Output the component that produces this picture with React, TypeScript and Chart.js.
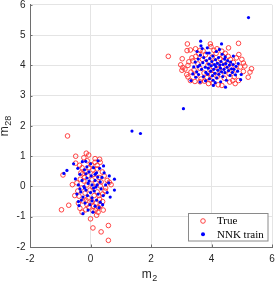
import React, { useEffect, useRef } from "react";
import { Chart, registerables } from "chart.js";

Chart.register(...registerables);

// Axis ranges and tick labels
const xTickValues = [-2, 0, 2, 4, 6];
const yTickValues = [-2, -1, 0, 1, 2, 3, 4, 5, 6];
const seriesLabels = ["True", "NNK train"];

// "True" samples, cluster near (0,0)
const trueA: [number, number][] = [
  [-0.76, 1.67], [-0.14, 1.10], [-0.06, 1.04], [-0.49, 1.00], [0.30, 0.90], [0.32, 0.80],
  [-0.11, 0.85], [0.15, 0.80], [-0.49, 0.77], [-0.36, 0.70], [0.22, 0.58], [0.39, 0.48],
  [-0.91, 0.38], [-0.32, 0.45], [-0.26, 0.42], [-0.34, 0.24], [-0.60, 0.06], [0.68, 0.06],
  [0.62, 0.14], [-0.96, -0.77], [-0.72, -0.62], [-0.16, -0.77], [0.16, -0.78], [0.27, -0.70],
  [0.34, -0.62], [0.00, -1.07], [0.08, -1.37], [0.35, -1.50], [0.59, -1.29], [0.59, -1.78],
  [-0.05, 0.62], [0.08, 0.55], [-0.18, 0.50], [0.12, 0.40], [-0.08, 0.35], [0.28, 0.30],
  [-0.22, 0.18], [0.05, 0.22], [0.18, 0.12], [-0.12, 0.05], [0.32, 0.02], [-0.30, -0.05],
  [0.08, -0.02], [-0.02, -0.12], [0.22, -0.18], [-0.18, -0.22], [0.40, -0.25], [-0.38, -0.32],
  [0.12, -0.30], [-0.08, -0.38], [0.30, -0.42], [-0.25, -0.48], [0.05, -0.50], [0.18, -0.55],
  [-0.12, -0.60], [0.25, -0.85], [0.08, -0.80], [-0.05, -0.68], [-0.40, -0.55], [0.45, 0.35],
  [0.50, -0.05], [0.48, -0.15], [-0.45, 0.12], [-0.42, -0.15], [0.02, 0.72], [0.22, 0.70],
  [-0.28, 0.62], [-0.35, -0.72], [0.40, -0.50], [0.10, -0.65], [-0.20, 0.30], [0.35, 0.15],
  [-0.15, -0.45], [0.28, -0.30], [0.15, 0.92], [-0.22, 0.95], [0.55, 0.20], [-0.52, -0.30],
  [0.42, -0.78], [-0.28, -0.85], [0.20, -0.95],
];

// "True" samples, cluster near (4,4)
const trueB: [number, number][] = [
  [2.57, 4.30], [3.03, 4.22], [2.98, 4.02], [3.02, 3.84], [3.05, 3.93], [3.19, 4.49],
  [3.20, 4.71], [3.30, 4.51], [3.47, 4.55], [3.62, 4.50], [3.96, 4.71], [3.98, 4.62],
  [4.18, 4.55], [4.34, 4.47], [4.45, 4.40], [4.56, 4.58], [4.89, 4.73], [4.55, 4.30],
  [4.90, 4.36], [5.00, 4.20], [5.05, 4.08], [5.10, 3.98], [4.95, 3.95], [5.32, 3.89],
  [5.27, 3.78], [5.21, 3.61], [5.05, 3.80], [4.89, 3.50], [4.78, 3.40], [4.60, 3.45],
  [4.34, 3.34], [4.22, 3.36], [4.05, 3.42], [3.90, 3.40], [3.77, 3.48], [3.62, 3.46],
  [3.45, 3.47], [3.30, 3.50], [3.22, 3.62], [3.18, 3.70], [3.12, 3.88], [3.22, 4.00],
  [3.25, 4.12], [3.38, 4.15], [3.35, 4.25], [3.48, 4.30], [3.55, 4.05], [3.62, 3.90],
  [3.70, 4.20], [3.75, 3.75], [3.80, 4.35], [3.85, 3.60], [3.88, 4.00], [3.92, 4.12],
  [3.95, 3.85], [4.00, 3.70], [4.02, 4.28], [4.05, 3.95], [4.10, 4.10], [4.12, 3.80],
  [4.15, 4.40], [4.18, 3.62], [4.22, 4.02], [4.25, 3.88], [4.28, 4.22], [4.30, 3.70],
  [4.35, 3.95], [4.40, 4.15], [4.42, 3.58], [4.48, 3.85], [4.52, 4.05], [4.58, 3.72],
  [4.62, 4.20], [4.65, 3.92], [4.72, 4.10], [4.75, 3.62], [4.80, 3.85], [4.82, 4.25],
  [3.50, 3.68], [3.42, 3.85], [3.65, 3.55], [3.58, 4.38], [3.72, 4.48], [4.08, 4.50],
  [4.38, 4.30], [4.70, 3.50], [3.32, 3.78], [3.95, 3.52],
];

// "NNK train" samples, cluster near (0,0)
const nnkA: [number, number][] = [
  [1.37, 1.83], [1.65, 1.75], [-0.78, 0.53], [-0.88, 0.43], [-0.56, 0.75], [-0.27, 0.82],
  [0.24, 0.31], [0.62, 0.35], [0.79, 0.24], [0.79, -0.12], [-0.25, -0.90], [-0.38, -0.63],
  [0.43, 0.68], [-0.16, 0.83], [-0.35, 0.40], [-0.20, 0.55], [-0.05, 0.48], [0.10, 0.62],
  [0.20, 0.45], [-0.28, 0.20], [-0.12, 0.28], [0.02, 0.35], [0.15, 0.20], [0.32, 0.15],
  [-0.40, 0.05], [-0.22, 0.00], [-0.08, 0.10], [0.05, 0.05], [0.18, -0.02], [0.35, -0.08],
  [0.50, 0.05], [-0.32, -0.18], [-0.15, -0.12], [0.00, -0.20], [0.12, -0.15], [0.25, -0.25],
  [0.42, -0.30], [-0.25, -0.35], [-0.10, -0.30], [0.05, -0.38], [0.20, -0.45], [0.32, -0.52],
  [-0.18, -0.55], [-0.02, -0.60], [0.15, -0.65], [0.28, -0.70], [-0.08, -0.78], [0.08, -0.85],
  [-0.45, -0.25], [-0.50, 0.25], [0.45, 0.45], [-0.42, 0.60], [0.00, 0.75], [0.30, 0.60],
  [-0.30, -0.45], [0.55, -0.20], [0.60, 0.12], [-0.12, 0.65], [0.38, 0.30], [-0.05, 0.18],
  [0.10, -0.05], [-0.20, -0.05], [0.22, 0.05], [-0.35, -0.08], [0.15, 0.40], [-0.15, 0.42],
  [0.05, -0.48], [0.40, -0.60], [-0.40, -0.50], [0.65, -0.35], [0.25, 0.85],
];

// "NNK train" samples, cluster near (4,4)
const nnkB: [number, number][] = [
  [5.22, 5.58], [3.07, 2.57], [3.64, 4.80], [3.65, 4.65], [4.33, 4.71], [4.98, 3.70],
  [4.96, 3.53], [4.46, 3.28], [4.06, 3.34], [3.32, 3.50], [3.41, 3.95], [3.46, 4.11],
  [3.51, 3.79], [3.56, 4.21], [3.57, 3.70], [3.61, 4.01], [3.63, 4.34], [3.67, 3.87],
  [3.71, 4.09], [3.73, 3.63], [3.74, 4.26], [3.79, 3.94], [3.81, 3.77], [3.83, 4.16],
  [3.84, 4.41], [3.87, 3.71], [3.89, 3.91], [3.91, 4.04], [3.93, 3.56], [3.94, 4.23],
  [3.97, 3.81], [3.99, 3.99], [4.01, 4.13], [4.03, 3.66], [4.04, 4.31], [4.07, 3.87],
  [4.09, 4.03], [4.11, 3.74], [4.13, 4.19], [4.14, 3.96], [4.17, 3.59], [4.19, 4.07],
  [4.21, 3.84], [4.23, 4.26], [4.24, 3.71], [4.27, 4.01], [4.29, 3.91], [4.31, 4.13],
  [4.33, 3.79], [4.35, 4.37], [4.37, 3.63], [4.38, 4.03], [4.41, 3.87], [4.43, 4.21],
  [4.44, 3.76], [4.47, 4.06], [4.49, 3.51], [4.51, 3.94], [4.53, 4.16], [4.56, 3.83],
  [4.59, 4.01], [4.61, 3.67], [4.63, 4.11], [4.66, 3.89], [4.69, 3.77], [4.71, 4.03],
  [4.74, 3.87], [4.79, 3.69], [4.81, 3.97], [4.86, 3.81], [4.88, 4.06], [3.52, 4.46],
  [3.69, 4.56], [3.86, 4.58], [4.26, 4.53], [3.48, 3.61], [3.62, 3.45], [3.80, 3.49],
  [4.12, 3.43], [4.30, 3.46], [3.38, 3.72], [3.55, 3.96], [3.92, 4.41], [4.05, 3.51],
  [4.16, 4.46], [4.45, 4.28], [4.72, 4.31],
];

const SANS = '"Liberation Sans", Arial, Helvetica, sans-serif';
const SERIF = '"Liberation Serif", "Times New Roman", serif';
const RED = "#ff3030";
const BLUE = "#0000ff";
const AXIS = "#6e6e6e";
const TEXT = "#262626";

const toPoints = (arr: [number, number][]) => arr.map(([x, y]) => ({ x, y }));

const overlay = {
  id: "overlay",
  afterDraw(chart: any) {
    const { ctx, chartArea: a, scales } = chart;
    const xs = scales.x;
    const ys = scales.y;
    ctx.save();
    // inward tick marks
    ctx.strokeStyle = AXIS;
    ctx.lineWidth = 1;
    for (const v of xTickValues) {
      const px = Math.round(xs.getPixelForValue(v)) + 0.5;
      ctx.beginPath();
      ctx.moveTo(px, a.bottom);
      ctx.lineTo(px, a.bottom - 2.5);
      ctx.stroke();
    }
    for (const v of yTickValues) {
      const py = Math.round(ys.getPixelForValue(v)) + 0.5;
      ctx.beginPath();
      ctx.moveTo(a.left, py);
      ctx.lineTo(a.left + 2.5, py);
      ctx.stroke();
    }

    // axis titles
    ctx.fillStyle = TEXT;
    ctx.textBaseline = "alphabetic";
    ctx.textAlign = "left";
    const mainFont = `12px ${SANS}`;
    const subFont = `9px ${SANS}`;
    // x title: m_2
    ctx.font = mainFont;
    const mw = ctx.measureText("m").width;
    ctx.font = subFont;
    const s2w = ctx.measureText("2").width;
    const cx = (a.left + a.right) / 2 - 1.5;
    const x0 = cx - (mw + s2w + 0.5) / 2;
    ctx.font = mainFont;
    ctx.fillText("m", x0, 277.5);
    ctx.font = subFont;
    ctx.fillText("2", x0 + mw + 0.5, 281);

    // y title: m_28 rotated
    ctx.font = subFont;
    const s28w = ctx.measureText("28").width;
    const cy = (a.top + a.bottom) / 2;
    ctx.translate(7.5, cy + (mw + s28w + 0.5) / 2);
    ctx.rotate(-Math.PI / 2);
    ctx.font = mainFont;
    ctx.fillText("m", 0, 0);
    ctx.font = subFont;
    ctx.fillText("28", mw + 0.5, 3.8);
    ctx.setTransform(1, 0, 0, 1, 0, 0);

    // legend box
    const bx = 188.5, by = 213.5, bw = 79.5, bh = 27.5;
    ctx.fillStyle = "#ffffff";
    ctx.fillRect(bx, by, bw, bh);
    ctx.strokeStyle = "#8a8a8a";
    ctx.lineWidth = 1;
    ctx.strokeRect(bx, by, bw, bh);
    // markers
    ctx.strokeStyle = RED;
    ctx.lineWidth = 0.9;
    ctx.beginPath();
    ctx.arc(203, 221, 2.3, 0, Math.PI * 2);
    ctx.stroke();
    ctx.fillStyle = BLUE;
    ctx.beginPath();
    ctx.arc(203, 234.3, 2, 0, Math.PI * 2);
    ctx.fill();
    // labels
    ctx.fillStyle = "#000000";
    ctx.font = `11px ${SERIF}`;
    ctx.textBaseline = "middle";
    ctx.fillText(seriesLabels[0], 217, 221.5);
    ctx.fillText(seriesLabels[1], 217, 234.8);
    ctx.restore();
  },
};

export default function App() {
  const ref = useRef<HTMLCanvasElement | null>(null);
  useEffect(() => {
    if (!ref.current) return;
    const chart = new Chart(ref.current, {
      type: "scatter",
      data: {
        datasets: [
          {
            label: seriesLabels[0],
            data: toPoints([...trueA, ...trueB]),
            pointStyle: "circle",
            pointRadius: 2.3,
            borderColor: RED,
            backgroundColor: "rgba(0,0,0,0)",
            borderWidth: 0.9,
            order: 1,
          },
          {
            label: seriesLabels[1],
            data: toPoints([...nnkA, ...nnkB]),
            pointStyle: "circle",
            pointRadius: 1.6,
            borderColor: BLUE,
            backgroundColor: BLUE,
            borderWidth: 0,
            order: 0,
          },
        ],
      },
      options: {
        responsive: false,
        animation: false,
        events: [],
        layout: { padding: { left: 0, right: 3, top: 4, bottom: 0 } },
        plugins: { legend: { display: false }, tooltip: { enabled: false } },
        scales: {
          x: {
            type: "linear",
            min: -2,
            max: 6,
            afterBuildTicks: (s: any) => {
              s.ticks = xTickValues.map((v) => ({ value: v }));
            },
            ticks: { font: { size: 10, family: SANS }, color: TEXT, padding: 6, maxRotation: 0 },
            grid: { color: "#e4e4e4", drawTicks: false },
            border: { color: AXIS, width: 1 },
            afterFit: (s: any) => {
              s.height = 34;
              s.paddingLeft = 0;
              s.paddingRight = 0;
            },
          },
          y: {
            type: "linear",
            min: -2,
            max: 6,
            afterBuildTicks: (s: any) => {
              s.ticks = yTickValues.map((v) => ({ value: v }));
            },
            ticks: { font: { size: 10, family: SANS }, color: TEXT, padding: 4.5 },
            grid: { color: "#e4e4e4", drawTicks: false },
            border: { color: AXIS, width: 1 },
            afterFit: (s: any) => {
              s.width = 30;
              s.paddingTop = 0;
              s.paddingBottom = 0;
            },
          },
        },
      },
      plugins: [overlay],
    });
    return () => chart.destroy();
  }, []);
  return (
    <div style={{ position: "fixed", left: 0, top: 0, width: 277, height: 281, background: "#fff" }}>
      <canvas ref={ref} width={277} height={281} style={{ width: 277, height: 281, display: "block" }} />
    </div>
  );
}
